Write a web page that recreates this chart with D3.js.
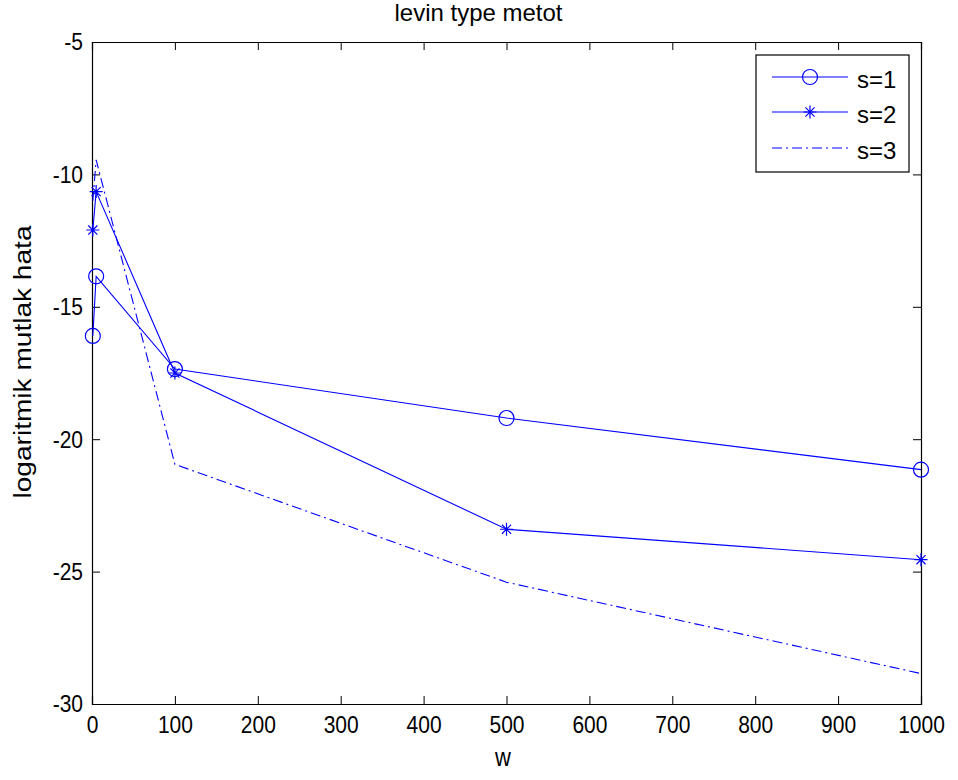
<!DOCTYPE html>
<html lang="en">
<head>
<meta charset="UTF-8" />
<title>levin type metot</title>
<script src="https://cdnjs.cloudflare.com/ajax/libs/d3/7.8.5/d3.min.js"></script>
<style>
    body { margin: 0; padding: 0; background: #fff; }
    svg { display: block; font-family: 'Liberation Sans', Arial, sans-serif; }
</style>
</head>
<body>
<svg id="chart" width="958" height="780"></svg>
<script>
    // data
    const w = [1, 5, 100, 500, 1000];
    const s1 = [-16.1, -13.85, -17.35, -19.2, -21.15];
    const s2 = [-12.1, -10.65, -17.5, -23.4, -24.55];
    const s3 = [-11.0, -9.45, -20.95, -25.4, -28.85];
    const seriesNames = ["s=1", "s=2", "s=3"];
    const xTicks = [0, 100, 200, 300, 400, 500, 600, 700, 800, 900, 1000];
    const yTicks = [-5, -10, -15, -20, -25, -30];

    const blue = "#0000ff";
    const svg = d3.select("#chart");
    const pLeft = 92, pRight = 921, pTop = 42, pBottom = 704;
    const stretch = 1.17; // the original figure's text is a bit taller than wide

    const x = d3.scaleLinear().domain([0, 1000]).range([pLeft, pRight]);
    const y = d3.scaleLinear().domain([-30, -5]).range([pBottom, pTop]);

    svg.append("rect")
        .attr("x", pLeft).attr("y", pTop)
        .attr("width", pRight - pLeft).attr("height", pBottom - pTop)
        .attr("fill", "#fff");

    // axes with inward ticks, box on all four sides
    const tl = 8;
    const fmt = d => String(d); // plain hyphen, not unicode minus
    const axB = svg.append("g").attr("transform", `translate(0,${pBottom})`)
        .call(d3.axisBottom(x).tickValues(xTicks).tickSize(-tl).tickPadding(12).tickFormat(fmt));
    const axT = svg.append("g").attr("transform", `translate(0,${pTop})`)
        .call(d3.axisTop(x).tickValues(xTicks).tickSize(-tl).tickFormat(""));
    const axL = svg.append("g").attr("transform", `translate(${pLeft},0)`)
        .call(d3.axisLeft(y).tickValues(yTicks).tickSize(-tl).tickPadding(9).tickFormat(fmt));
    const axR = svg.append("g").attr("transform", `translate(${pRight},0)`)
        .call(d3.axisRight(y).tickValues(yTicks).tickSize(-tl).tickFormat(""));

    [axB, axT, axL, axR].forEach(g => {
        g.select(".domain").attr("stroke", "#000").attr("stroke-width", 1.2);
        g.selectAll(".tick line").attr("stroke", "#000");
        g.selectAll("text")
            .style("font-family", "'Liberation Sans', Arial, sans-serif")
            .attr("font-size", 21).attr("fill", "#000")
            .attr("transform", `scale(1,${stretch})`);
    });
    axB.selectAll("text").attr("y", 12 / stretch);

    // title and axis labels
    svg.append("text").attr("x", (pLeft + pRight) / 2 - 28).attr("y", 21)
        .attr("text-anchor", "middle").attr("font-size", 24).text("levin type metot");
    svg.append("text").attr("transform", `translate(503,766) scale(1,${stretch})`)
        .attr("text-anchor", "middle").attr("font-size", 22).text("w");
    svg.append("text").attr("transform", `translate(31,362) rotate(-90) scale(${stretch},1)`)
        .attr("text-anchor", "middle").attr("font-size", 24).text("logaritmik mutlak hata");

    const line = d3.line().x(d => x(d[0])).y(d => y(d[1]));
    const zipped = vals => w.map((v, i) => [v, vals[i]]);
    const dashDot = "10,4,2,4";

    function drawCircle(g, cx, cy) {
        g.append("circle").attr("cx", cx).attr("cy", cy).attr("r", 7.5)
            .attr("fill", "none").attr("stroke", blue).attr("stroke-width", 1.2);
    }
    function drawStar(g, cx, cy) {
        const r = 6.5;
        const p = `M${cx - r},${cy}L${cx + r},${cy}M${cx},${cy - r}L${cx},${cy + r}` +
            `M${cx - r * 0.7},${cy - r * 0.7}L${cx + r * 0.7},${cy + r * 0.7}` +
            `M${cx - r * 0.7},${cy + r * 0.7}L${cx + r * 0.7},${cy - r * 0.7}`;
        g.append("path").attr("d", p).attr("stroke", blue).attr("stroke-width", 1.2).attr("fill", "none");
    }

    const plot = svg.append("g");
    plot.append("path").datum(zipped(s1)).attr("d", line)
        .attr("fill", "none").attr("stroke", blue).attr("stroke-width", 1.1);
    plot.append("path").datum(zipped(s2)).attr("d", line)
        .attr("fill", "none").attr("stroke", blue).attr("stroke-width", 1.1);
    plot.append("path").datum(zipped(s3)).attr("d", line)
        .attr("fill", "none").attr("stroke", blue).attr("stroke-width", 1.1)
        .attr("stroke-dasharray", dashDot);
    zipped(s1).forEach(d => drawCircle(plot, x(d[0]), y(d[1])));
    zipped(s2).forEach(d => drawStar(plot, x(d[0]), y(d[1])));

    // legend
    const lg = svg.append("g");
    lg.append("rect").attr("x", 756).attr("y", 55).attr("width", 153).attr("height", 117)
        .attr("fill", "#fff").attr("stroke", "#000").attr("stroke-width", 1.2);
    const rowsY = [77, 112, 148];
    seriesNames.forEach((name, i) => {
        const ly = rowsY[i];
        lg.append("line").attr("x1", 772).attr("x2", 848).attr("y1", ly).attr("y2", ly)
            .attr("stroke", blue).attr("stroke-width", 1.1)
            .attr("stroke-dasharray", i === 2 ? dashDot : null);
        if (i === 0) drawCircle(lg, 810, ly);
        if (i === 1) drawStar(lg, 810, ly);
        lg.append("text").attr("x", 857).attr("y", ly + 3).attr("dy", "0.35em")
            .attr("font-size", 24).text(name);
    });
</script>
</body>
</html>
